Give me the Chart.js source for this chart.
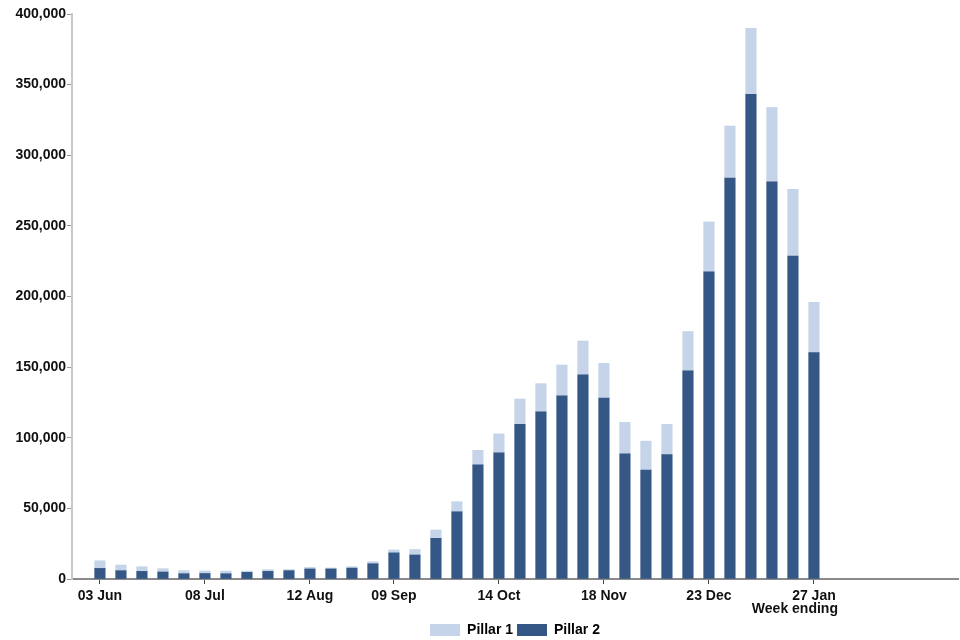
<!DOCTYPE html>
<html>
<head>
<meta charset="utf-8">
<script src="https://cdn.jsdelivr.net/npm/chart.js@4"></script>
<style>
  html, body { margin: 0; padding: 0; background: #fff; }
  #wrap { width: 960px; height: 640px; }
</style>
</head>
<body>
<div id="wrap"><canvas id="barChart" width="960" height="640"></canvas></div>
<script>
// week ending dates, one bar per week
const weeks = [
  "03 Jun", "10 Jun", "17 Jun", "24 Jun", "01 Jul", "08 Jul", "15 Jul", "22 Jul",
  "29 Jul", "05 Aug", "12 Aug", "19 Aug", "26 Aug", "02 Sep", "09 Sep", "16 Sep",
  "23 Sep", "30 Sep", "07 Oct", "14 Oct", "21 Oct", "28 Oct", "04 Nov", "11 Nov",
  "18 Nov", "25 Nov", "02 Dec", "09 Dec", "16 Dec", "23 Dec", "30 Dec", "06 Jan",
  "13 Jan", "20 Jan", "27 Jan"
];

// labelled weeks on the x axis
const tickLabels = ["03 Jun", "08 Jul", "12 Aug", "09 Sep", "14 Oct", "18 Nov", "23 Dec", "27 Jan"];

const pillar2 = [
  7500, 5900, 5400, 4950, 3750, 3900, 3750, 4700, 5400, 5900, 7100, 7100,
  7700, 10800, 18500, 17000, 28800, 47600, 80900, 89400, 109500, 118400, 129600, 144600,
  128100, 88700, 77200, 88100, 147300, 217400, 283900, 343200, 281100, 228700, 160300
];

const pillar1 = [
  5400, 4000, 3300, 2350, 2150, 1800, 1850, 900, 1200, 700, 1100, 700,
  1000, 1450, 2100, 3900, 5900, 7100, 10200, 13300, 17900, 19900, 21900, 23900,
  24600, 22200, 20400, 21400, 27900, 35400, 36800, 46700, 52700, 47200, 35600
];

const toPoints = (arr) => arr.map((v, i) => ({ x: i, y: v }));

// "Week ending" under the last tick label
const weekEndingLabel = {
  id: "weekEndingLabel",
  afterDraw(chart) {
    const xs = chart.scales.x;
    const ctx = chart.ctx;
    const x = xs.getPixelForValue(weeks.length - 1) + 24;
    ctx.save();
    ctx.font = "bold 14px 'Liberation Sans', Arial, sans-serif";
    ctx.fillStyle = "#111";
    ctx.textAlign = "right";
    ctx.textBaseline = "middle";
    ctx.fillText("Week ending", x, 609);
    ctx.restore();
  }
};

Chart.defaults.font.family = "'Liberation Sans', Arial, sans-serif";
Chart.defaults.font.size = 14;
Chart.defaults.font.weight = "bold";
Chart.defaults.color = "#111";

new Chart(document.getElementById("barChart"), {
  type: "bar",
  data: {
    datasets: [
      {
        label: "Pillar 2",
        data: toPoints(pillar2),
        backgroundColor: "#345785",
        barThickness: 10.5
      },
      {
        label: "Pillar 1",
        data: toPoints(pillar1),
        backgroundColor: "#c5d4e8",
        barThickness: 10.5
      }
    ]
  },
  options: {
    responsive: false,
    animation: false,
    layout: { padding: { top: 14, right: 2, left: 0, bottom: -7 } },
    plugins: {
      tooltip: { enabled: false },
      legend: {
        position: "bottom",
        fullSize: false,
        reverse: true,
        labels: {
          boxWidth: 30,
          boxHeight: 12,
          padding: 4,
          color: "#000",
          font: { size: 14, weight: "bold" }
        }
      }
    },
    scales: {
      x: {
        type: "linear",
        stacked: true,
        offset: false,
        min: -1.33,
        max: 40.86,
        afterBuildTicks: (scale) => {
          scale.ticks = tickLabels.map((l) => ({ value: weeks.indexOf(l) }));
        },
        afterFit: (scale) => { scale.height = 40; },
        ticks: {
          padding: 4,
          maxRotation: 0,
          autoSkip: false,
          callback: (value) => weeks[value]
        },
        grid: { offset: false, drawOnChartArea: false, drawTicks: true, tickLength: 5, color: "#444" },
        border: { color: "#8a8a8a", width: 2 }
      },
      y: {
        stacked: true,
        min: 0,
        max: 400000,
        afterFit: (scale) => { scale.width = 72; },
        ticks: {
          stepSize: 50000,
          padding: 1,
          callback: (value) => value.toLocaleString("en-GB")
        },
        grid: { drawOnChartArea: false, drawTicks: true, tickLength: 5, color: "#999" },
        border: { color: "#c8c8c8", width: 2 }
      }
    }
  },
  plugins: [weekEndingLabel]
});
</script>
</body>
</html>
